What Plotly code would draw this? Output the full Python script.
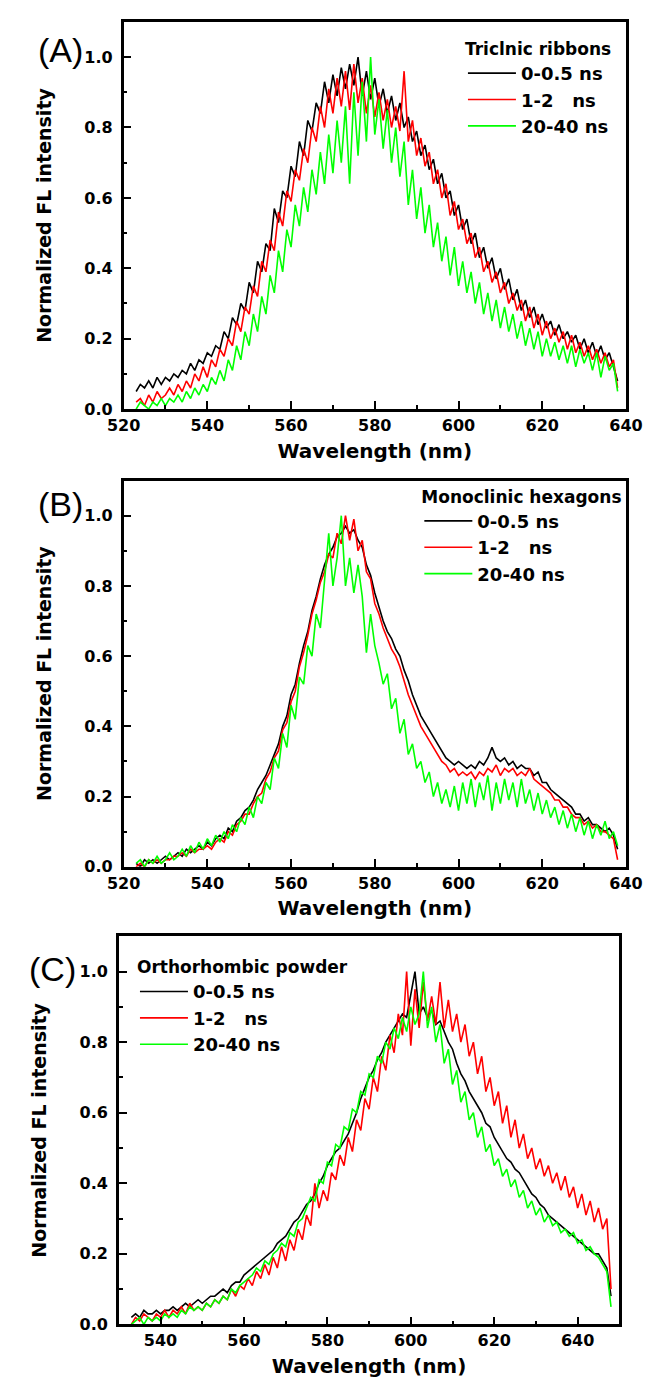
import plotly.graph_objects as go

# ---------------- data ----------------
WL_AB = list(range(523, 639))   # 523..638 nm
WL_C = list(range(533, 649))    # 533..648 nm

A_0_05 = [0.05, 0.07, 0.06, 0.08, 0.06, 0.09, 0.07, 0.09, 0.08, 0.10,
          0.09, 0.11, 0.10, 0.13, 0.11, 0.14, 0.13, 0.16, 0.15, 0.18,
          0.17, 0.22, 0.20, 0.26, 0.24, 0.30, 0.28, 0.36, 0.33, 0.42,
          0.39, 0.47, 0.45, 0.57, 0.53, 0.62, 0.60, 0.69, 0.66, 0.76,
          0.72, 0.82, 0.79, 0.87, 0.84, 0.93, 0.87, 0.95, 0.89, 0.97,
          0.91, 0.98, 0.92, 1.00, 0.89, 0.96, 0.88, 0.94, 0.86, 0.91,
          0.84, 0.89, 0.82, 0.87, 0.80, 0.83, 0.76, 0.79, 0.72, 0.75,
          0.68, 0.71, 0.64, 0.67, 0.60, 0.62, 0.55, 0.58, 0.51, 0.54,
          0.47, 0.50, 0.43, 0.46, 0.40, 0.43, 0.37, 0.40, 0.34, 0.37,
          0.31, 0.34, 0.28, 0.31, 0.26, 0.29, 0.24, 0.27, 0.23, 0.25,
          0.21, 0.24, 0.20, 0.22, 0.19, 0.21, 0.17, 0.20, 0.16, 0.19,
          0.15, 0.18, 0.14, 0.16, 0.12, 0.08]
A_1_2 = [0.02, 0.03, 0.01, 0.04, 0.02, 0.05, 0.03, 0.04, 0.06, 0.04,
         0.07, 0.05, 0.08, 0.06, 0.10, 0.08, 0.12, 0.09, 0.14, 0.12,
         0.17, 0.15, 0.20, 0.18, 0.25, 0.22, 0.29, 0.27, 0.35, 0.32,
         0.42, 0.39, 0.48, 0.45, 0.56, 0.52, 0.62, 0.59, 0.68, 0.65,
         0.74, 0.70, 0.80, 0.76, 0.86, 0.80, 0.91, 0.84, 0.94, 0.86,
         0.96, 0.85, 0.98, 0.87, 0.94, 0.84, 0.92, 0.83, 0.90, 0.82,
         0.88, 0.80, 0.86, 0.79, 0.96, 0.76, 0.82, 0.72, 0.77, 0.69,
         0.73, 0.64, 0.68, 0.60, 0.64, 0.55, 0.59, 0.51, 0.54, 0.47,
         0.50, 0.43, 0.46, 0.39, 0.42, 0.36, 0.39, 0.33, 0.36, 0.30,
         0.33, 0.28, 0.31, 0.25, 0.29, 0.23, 0.27, 0.21, 0.25, 0.20,
         0.23, 0.19, 0.22, 0.17, 0.21, 0.16, 0.19, 0.15, 0.18, 0.14,
         0.17, 0.13, 0.16, 0.12, 0.14, 0.06]
A_20_40 = [0.00, 0.02, 0.01, 0.00, 0.02, 0.01, 0.03, 0.01, 0.03, 0.02,
           0.04, 0.02, 0.05, 0.03, 0.06, 0.04, 0.07, 0.05, 0.09, 0.07,
           0.11, 0.08, 0.14, 0.11, 0.18, 0.14, 0.22, 0.18, 0.27, 0.22,
           0.32, 0.27, 0.38, 0.33, 0.45, 0.39, 0.51, 0.46, 0.58, 0.52,
           0.63, 0.56, 0.68, 0.61, 0.73, 0.64, 0.78, 0.67, 0.82, 0.70,
           0.86, 0.64, 0.90, 0.72, 0.93, 0.76, 1.00, 0.78, 0.88, 0.74,
           0.85, 0.70, 0.80, 0.66, 0.76, 0.58, 0.68, 0.54, 0.63, 0.50,
           0.58, 0.46, 0.53, 0.42, 0.49, 0.38, 0.46, 0.35, 0.42, 0.33,
           0.39, 0.30, 0.36, 0.27, 0.33, 0.25, 0.31, 0.23, 0.29, 0.22,
           0.27, 0.20, 0.25, 0.18, 0.23, 0.17, 0.22, 0.15, 0.20, 0.15,
           0.19, 0.14, 0.18, 0.13, 0.18, 0.12, 0.17, 0.13, 0.16, 0.11,
           0.16, 0.09, 0.15, 0.11, 0.13, 0.05]

B_0_05 = [0.01, 0.00, 0.02, 0.01, 0.02, 0.01, 0.02, 0.03, 0.02, 0.03,
          0.04, 0.03, 0.05, 0.04, 0.05, 0.06, 0.05, 0.07, 0.06, 0.08,
          0.09, 0.08, 0.11, 0.10, 0.13, 0.14, 0.16, 0.17, 0.19, 0.22,
          0.24, 0.26, 0.29, 0.32, 0.35, 0.40, 0.43, 0.49, 0.52, 0.58,
          0.63, 0.67, 0.73, 0.77, 0.82, 0.86, 0.89, 0.91, 0.94, 0.95,
          0.97, 0.95, 0.96, 0.93, 0.91, 0.86, 0.83, 0.78, 0.74, 0.70,
          0.67, 0.65, 0.62, 0.60, 0.56, 0.53, 0.49, 0.46, 0.43, 0.41,
          0.39, 0.37, 0.35, 0.33, 0.31, 0.30, 0.29, 0.30, 0.29, 0.28,
          0.29, 0.28, 0.30, 0.29, 0.31, 0.34, 0.31, 0.30, 0.31, 0.29,
          0.30, 0.28, 0.29, 0.28, 0.28, 0.26, 0.27, 0.24, 0.24, 0.22,
          0.21, 0.20, 0.19, 0.18, 0.17, 0.15, 0.15, 0.13, 0.14, 0.12,
          0.12, 0.11, 0.10, 0.11, 0.09, 0.05]
B_1_2 = [0.00, 0.01, 0.00, 0.02, 0.01, 0.02, 0.01, 0.02, 0.02, 0.03,
         0.03, 0.04, 0.03, 0.05, 0.04, 0.05, 0.05, 0.06, 0.05, 0.07,
         0.08, 0.07, 0.10, 0.09, 0.12, 0.13, 0.15, 0.15, 0.18, 0.20,
         0.21, 0.25, 0.27, 0.31, 0.33, 0.39, 0.41, 0.47, 0.50, 0.57,
         0.61, 0.66, 0.72, 0.76, 0.81, 0.84, 0.89, 0.88, 0.95, 0.92,
         1.00, 0.93, 0.99, 0.90, 0.93, 0.84, 0.82, 0.75, 0.72, 0.68,
         0.65, 0.62, 0.60, 0.57, 0.53, 0.49, 0.46, 0.43, 0.40, 0.38,
         0.36, 0.34, 0.32, 0.30, 0.29, 0.27, 0.28, 0.26, 0.27, 0.26,
         0.27, 0.25, 0.27, 0.26, 0.28, 0.27, 0.29, 0.26, 0.28, 0.27,
         0.28, 0.26, 0.27, 0.26, 0.28, 0.25, 0.24, 0.23, 0.22, 0.21,
         0.19, 0.19, 0.17, 0.17, 0.15, 0.14, 0.14, 0.12, 0.13, 0.11,
         0.12, 0.10, 0.10, 0.09, 0.08, 0.02]
B_20_40 = [0.01, 0.02, 0.00, 0.02, 0.01, 0.03, 0.01, 0.02, 0.04, 0.02,
           0.03, 0.05, 0.03, 0.06, 0.04, 0.07, 0.05, 0.08, 0.06, 0.09,
           0.07, 0.10, 0.08, 0.12, 0.10, 0.14, 0.12, 0.17, 0.14, 0.20,
           0.18, 0.24, 0.22, 0.31, 0.28, 0.38, 0.34, 0.46, 0.42, 0.54,
           0.52, 0.63, 0.60, 0.72, 0.68, 0.82, 0.95, 0.80, 0.88, 1.00,
           0.80, 0.88, 0.78, 0.86, 0.77, 0.61, 0.72, 0.63, 0.58, 0.52,
           0.55, 0.45, 0.48, 0.38, 0.42, 0.32, 0.35, 0.28, 0.30, 0.24,
           0.27, 0.20, 0.24, 0.18, 0.22, 0.17, 0.23, 0.16, 0.24, 0.18,
           0.25, 0.17, 0.24, 0.19, 0.26, 0.16, 0.24, 0.18, 0.25, 0.19,
           0.24, 0.17, 0.25, 0.18, 0.22, 0.16, 0.21, 0.15, 0.19, 0.14,
           0.17, 0.12, 0.16, 0.11, 0.15, 0.10, 0.14, 0.09, 0.13, 0.08,
           0.12, 0.09, 0.13, 0.08, 0.10, 0.06]

C_0_05 = [0.02, 0.03, 0.02, 0.04, 0.03, 0.03, 0.04, 0.03, 0.04, 0.04,
          0.05, 0.04, 0.05, 0.06, 0.05, 0.06, 0.07, 0.06, 0.07, 0.08,
          0.08, 0.09, 0.10, 0.09, 0.11, 0.12, 0.12, 0.14, 0.15, 0.16,
          0.17, 0.18, 0.19, 0.20, 0.21, 0.23, 0.24, 0.25, 0.27, 0.29,
          0.30, 0.32, 0.34, 0.35, 0.37, 0.40, 0.42, 0.45, 0.47, 0.49,
          0.50, 0.52, 0.54, 0.57, 0.60, 0.64, 0.67, 0.70, 0.72, 0.75,
          0.77, 0.80, 0.82, 0.84, 0.86, 0.88, 0.87, 0.93, 1.00, 0.88,
          0.90, 0.87, 0.89, 0.85, 0.86, 0.83, 0.80, 0.78, 0.74, 0.71,
          0.69, 0.66, 0.64, 0.62, 0.60, 0.57, 0.56, 0.53, 0.51, 0.49,
          0.47, 0.46, 0.44, 0.43, 0.41, 0.39, 0.37, 0.36, 0.34, 0.33,
          0.31, 0.30, 0.29, 0.28, 0.27, 0.26, 0.25, 0.24, 0.23, 0.22,
          0.21, 0.20, 0.20, 0.18, 0.16, 0.08]
C_1_2 = [0.00, 0.02, 0.01, 0.03, 0.02, 0.01, 0.03, 0.02, 0.04, 0.02,
         0.04, 0.03, 0.05, 0.03, 0.06, 0.04, 0.05, 0.04, 0.06, 0.05,
         0.07, 0.06, 0.08, 0.07, 0.10, 0.08, 0.11, 0.10, 0.13, 0.11,
         0.15, 0.13, 0.17, 0.14, 0.19, 0.16, 0.22, 0.18, 0.24, 0.21,
         0.27, 0.24, 0.31, 0.28, 0.40, 0.33, 0.38, 0.35, 0.43, 0.41,
         0.48, 0.45, 0.53, 0.49, 0.58, 0.55, 0.64, 0.61, 0.70, 0.66,
         0.76, 0.72, 0.82, 0.77, 0.88, 0.82, 1.00, 0.79, 0.95, 0.84,
         0.97, 0.86, 0.93, 0.85, 0.97, 0.84, 0.92, 0.83, 0.88, 0.80,
         0.85, 0.76, 0.80, 0.71, 0.76, 0.66, 0.70, 0.62, 0.66, 0.57,
         0.62, 0.53, 0.58, 0.50, 0.54, 0.47, 0.50, 0.44, 0.47, 0.42,
         0.45, 0.40, 0.43, 0.38, 0.42, 0.36, 0.39, 0.33, 0.37, 0.31,
         0.35, 0.29, 0.33, 0.27, 0.30, 0.10]
C_20_40 = [0.00, 0.01, 0.02, 0.00, 0.02, 0.01, 0.02, 0.01, 0.03, 0.02,
           0.03, 0.02, 0.04, 0.03, 0.05, 0.04, 0.05, 0.04, 0.06, 0.05,
           0.07, 0.06, 0.08, 0.07, 0.10, 0.09, 0.11, 0.12, 0.13, 0.14,
           0.16, 0.15, 0.18, 0.17, 0.20, 0.21, 0.23, 0.22, 0.26, 0.25,
           0.29, 0.30, 0.33, 0.36, 0.35, 0.41, 0.40, 0.46, 0.45, 0.51,
           0.50, 0.56, 0.55, 0.61, 0.60, 0.66, 0.65, 0.71, 0.70, 0.76,
           0.74, 0.80, 0.78, 0.84, 0.81, 0.87, 0.83, 0.90, 0.85, 0.88,
           1.00, 0.84, 0.90, 0.80, 0.85, 0.74, 0.78, 0.68, 0.72, 0.63,
           0.66, 0.58, 0.60, 0.53, 0.56, 0.49, 0.51, 0.45, 0.47, 0.42,
           0.44, 0.39, 0.41, 0.36, 0.38, 0.33, 0.35, 0.31, 0.33, 0.29,
           0.31, 0.28, 0.29, 0.26, 0.27, 0.25, 0.26, 0.23, 0.24, 0.21,
           0.22, 0.20, 0.19, 0.17, 0.15, 0.05]

SERIES_NAMES = ["0-0.5 ns", "1-2\u00a0\u00a0\u00a0ns", "20-40 ns"]
PANEL_TITLES = ["Triclnic ribbons", "Monoclinic hexagons", "Orthorhombic powder"]
PANEL_LABELS = ["(A)", "(B)", "(C)"]
X_RANGES = [[520, 640], [520, 640], [530, 650]]
X_TICK0 = [520, 520, 540]

# ---------------- layout helpers ----------------
W, H = 653, 1389
COLORS = ["#000000", "#ff0000", "#00ff00"]
FONT = "DejaVu Sans"

# pixel boxes of the three plot frames: (left, right, top, bottom)
BOXES = [(104, 634, 14, 404), (104, 634, 476, 865), (99, 627, 935, 1326)]
LEGEND_POS = [(462, 25), (416, 476), (116, 950)]
LABEL_POS = [(37, 42), (37, 500), (29, 968)]

fig = go.Figure()
panels = [
    (WL_AB, [A_0_05, A_1_2, A_20_40]),
    (WL_AB, [B_0_05, B_1_2, B_20_40]),
    (WL_C, [C_0_05, C_1_2, C_20_40]),
]
for i, (wl, ys) in enumerate(panels):
    sfx = "" if i == 0 else str(i + 1)
    for name, y, c in zip(SERIES_NAMES, ys, COLORS):
        fig.add_trace(go.Scatter(
            x=wl, y=y, name=name, mode="lines",
            line=dict(color=c, width=1.6),
            xaxis="x" + sfx, yaxis="y" + sfx,
            legend="legend" + sfx,
        ))

layout = dict(
    width=W, height=H, margin=dict(l=0, r=0, t=0, b=0),
    paper_bgcolor="white", plot_bgcolor="white",
    font=dict(family=FONT, color="black"),
    showlegend=True,
)
for i, (l, r, t, b) in enumerate(BOXES):
    sfx = "" if i == 0 else str(i + 1)
    common = dict(
        showline=True, linewidth=2.5, linecolor="black", mirror=True,
        ticks="inside", ticklen=8, tickwidth=2, tickcolor="black",
        showgrid=False, zeroline=False,
        tickfont=dict(family=FONT, size=16, weight="bold"),
    )
    layout["xaxis" + sfx] = dict(
        domain=[l / W, r / W], anchor="y" + sfx, range=X_RANGES[i],
        tick0=X_TICK0[i], dtick=20,
        minor=dict(dtick=10, ticks="inside", ticklen=4, tickwidth=2, tickcolor="black"),
        title=dict(text="Wavelength (nm)", font=dict(family=FONT, size=20, weight="bold"), standoff=10),
        **common,
    )
    layout["yaxis" + sfx] = dict(
        domain=[1 - b / H, 1 - t / H], anchor="x" + sfx, range=[0, 1.1],
        tick0=0, dtick=0.2, tickformat=".1f", ticklabelstandoff=5,
        minor=dict(dtick=0.1, ticks="inside", ticklen=4, tickwidth=2, tickcolor="black"),
        title=dict(text="Normalized FL intensity", font=dict(family=FONT, size=19, weight="bold"), standoff=28),
        **common,
    )
    lx, ly = LEGEND_POS[i]
    layout["legend" + sfx] = dict(
        x=lx / W, y=1 - ly / H, xanchor="left", yanchor="top",
        bgcolor="rgba(0,0,0,0)", borderwidth=0, itemwidth=48,
        font=dict(family=FONT, size=18, weight="bold"),
        title=dict(text=PANEL_TITLES[i], font=dict(family=FONT, size=17, weight="bold")),
        tracegroupgap=0,
    )

fig.update_layout(**layout)
for i, txt in enumerate(PANEL_LABELS):
    x, y = LABEL_POS[i]
    fig.add_annotation(text=txt, x=x / W, y=1 - y / H, xref="paper", yref="paper",
                       showarrow=False, xanchor="center", yanchor="middle",
                       font=dict(family="Liberation Sans", size=34, color="black"))

fig.write_html("out.html")
